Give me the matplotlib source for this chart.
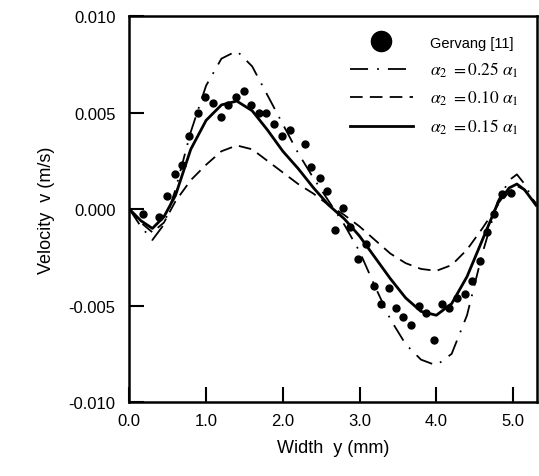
import numpy as np
import matplotlib
matplotlib.use("Agg")
import matplotlib.pyplot as plt

plt.rcParams['font.family'] = ['Liberation Sans', 'DejaVu Sans']
plt.rcParams['mathtext.fontset'] = 'stix'

# --- Data ---
# experiment (Gervang [11])
exp_y = [0.18, 0.39, 0.49, 0.59, 0.68, 0.78, 0.89, 0.99, 1.09, 1.19, 1.28, 1.39,
         1.49, 1.59, 1.69, 1.78, 1.88, 1.99, 2.09, 2.29, 2.37, 2.49, 2.57, 2.68,
         2.79, 2.88, 2.98, 3.08, 3.19, 3.28, 3.38, 3.47, 3.57, 3.67, 3.77, 3.87,
         3.97, 4.07, 4.17, 4.27, 4.37, 4.47, 4.57, 4.66, 4.75, 4.85, 4.97]
exp_v = [-0.00026, -0.00043, 0.00066, 0.0018, 0.0023, 0.0038, 0.0050, 0.0058,
         0.0055, 0.0048, 0.0054, 0.0058, 0.0061, 0.0054, 0.0050, 0.0050, 0.0044,
         0.0038, 0.0041, 0.0034, 0.0022, 0.0016, 0.00095, -0.0011, 0.00005,
         -0.00095, -0.0026, -0.0018, -0.0040, -0.0049, -0.0041, -0.0051, -0.0056,
         -0.0060, -0.0050, -0.0054, -0.0068, -0.0049, -0.0051, -0.0046, -0.0044,
         -0.0037, -0.0027, -0.0012, -0.00026, 0.00078, 0.00085]

# model curves
y_mod = [0.0, 0.15, 0.3, 0.45, 0.6, 0.8, 1.0, 1.2, 1.4, 1.6, 1.8, 2.0, 2.2, 2.4,
         2.6, 2.8, 3.0, 3.2, 3.4, 3.6, 3.8, 4.0, 4.2, 4.4, 4.6, 4.8, 4.95, 5.05,
         5.15, 5.3]
v_025 = [0.0, -0.0009, -0.0016, -0.0008, 0.0010, 0.0040, 0.0064, 0.0078, 0.0082,
         0.0074, 0.0059, 0.0044, 0.0029, 0.0016, 0.0004, -0.0008, -0.0022,
         -0.0040, -0.0057, -0.0070, -0.0078, -0.0081, -0.0075, -0.0055, -0.0023,
         0.0004, 0.0015, 0.0018, 0.0013, 0.0002]
v_010 = [0.0, -0.0007, -0.0012, -0.0007, 0.0004, 0.0015, 0.0023, 0.0030, 0.0033,
         0.0031, 0.0025, 0.0019, 0.0013, 0.0008, 0.0002, -0.0003, -0.0009,
         -0.0016, -0.0023, -0.0028, -0.0031, -0.0032, -0.0029, -0.0021, -0.0010,
         0.0002, 0.0009, 0.0012, 0.0010, 0.0003]
v_015 = [0.0, -0.0006, -0.0010, -0.0004, 0.0007, 0.0031, 0.0046, 0.0054, 0.0056,
         0.0051, 0.0041, 0.0030, 0.0021, 0.0011, 0.0002, -0.0005, -0.0014,
         -0.0025, -0.0036, -0.0046, -0.0053, -0.0055, -0.0049, -0.0035, -0.0016,
         0.0003, 0.0011, 0.0013, 0.0010, 0.0002]

xticks = [0.0, 1.0, 2.0, 3.0, 4.0, 5.0]
yticks = [-0.010, -0.005, 0.0, 0.005, 0.010]

# --- Plot ---
fig = plt.figure(figsize=(5.39, 4.77), dpi=100)
ax = fig.add_axes([0.240, 0.155, 0.756, 0.809])

ax.plot(exp_y, exp_v, 'o', color='black', markersize=5, label='Gervang [11]')
ax.plot(y_mod, v_025, color='black', lw=1.3, dashes=(10, 5, 1, 5),
        label=r'$\alpha_2\ = 0.25\ \alpha_1$')
ax.plot(y_mod, v_010, color='black', lw=1.3, dashes=(7, 4),
        label=r'$\alpha_2\ = 0.10\ \alpha_1$')
ax.plot(y_mod, v_015, color='black', lw=2.0,
        label=r'$\alpha_2\ = 0.15\ \alpha_1$')

ax.set_xlim(0, 5.31)
ax.set_ylim(-0.010, 0.010)
ax.set_xticks(xticks)
ax.set_xticklabels([f"{t:.1f}" for t in xticks])
ax.set_yticks(yticks)
ax.set_yticklabels([f"{t:.3f}" for t in yticks])
ax.tick_params(direction='in', length=11, width=1.5, labelsize=12)
ax.tick_params(axis='y', pad=10)
ax.tick_params(axis='x', pad=8)
for s in ax.spines.values():
    s.set_linewidth(1.8)

ax.set_xlabel("Width  y (mm)", fontsize=13, labelpad=8)
ax.set_ylabel("Velocity  v (m/s)", fontsize=13, labelpad=10)

leg = ax.legend(frameon=False, loc='upper left', bbox_to_anchor=(350 / 539, 1 - 36 / 477),
                bbox_transform=fig.transFigure, borderpad=0, borderaxespad=0,
                handlelength=3.6, handletextpad=1.0, labelspacing=0.55,
                markerscale=2.9, fontsize=12.5)
leg.get_texts()[0].set_fontsize(10.5)

fig.savefig("out.png", dpi=100)
